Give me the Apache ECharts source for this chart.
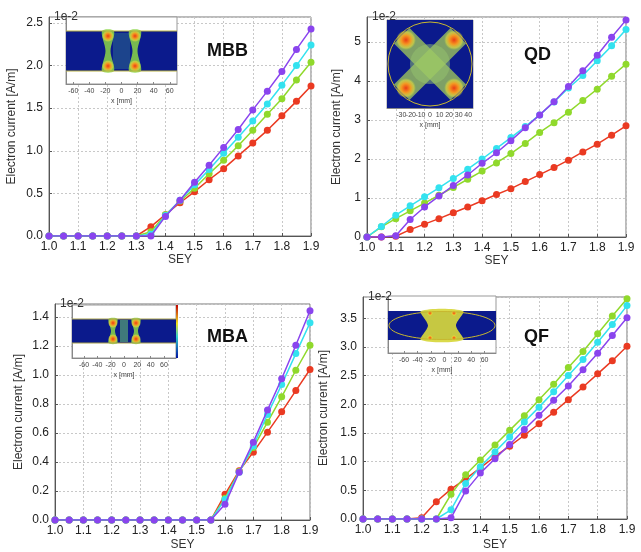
<!DOCTYPE html>
<html>
<head>
<meta charset="utf-8">
<script src="https://cdn.jsdelivr.net/npm/echarts@6/dist/echarts.min.js"></script>
<style>
  html, body { margin: 0; padding: 0; background: #fff; }
  #main { width: 641px; height: 552px; }
</style>
</head>
<body>
<div id="main"></div>
<script>
// SEY values (x axis), same for every panel
var sey = [1.0, 1.05, 1.1, 1.15, 1.2, 1.25, 1.3, 1.35, 1.4, 1.45, 1.5, 1.55, 1.6, 1.65, 1.7, 1.75, 1.8, 1.85, 1.9];

// electron current, units of 1e-2 A/m
var mbbRed    = [0, 0, 0, 0, 0, 0, 0, 0.11, 0.25, 0.39, 0.52, 0.66, 0.79, 0.94, 1.09, 1.24, 1.41, 1.58, 1.76];
var mbbGreen  = [0, 0, 0, 0, 0, 0, 0, 0.05, 0.25, 0.41, 0.56, 0.73, 0.89, 1.06, 1.24, 1.43, 1.61, 1.83, 2.04];
var mbbCyan   = [0, 0, 0, 0, 0, 0, 0, 0.02, 0.24, 0.42, 0.60, 0.78, 0.97, 1.16, 1.35, 1.55, 1.77, 2.00, 2.24];
var mbbPurple = [0, 0, 0, 0, 0, 0, 0, 0, 0.23, 0.42, 0.63, 0.83, 1.04, 1.25, 1.48, 1.70, 1.93, 2.19, 2.43];

var qdRed    = [0, 0, 0.02, 0.19, 0.33, 0.47, 0.62, 0.77, 0.93, 1.09, 1.24, 1.42, 1.60, 1.78, 1.97, 2.18, 2.38, 2.61, 2.85];
var qdGreen  = [0, 0.26, 0.47, 0.67, 0.87, 1.07, 1.27, 1.48, 1.69, 1.90, 2.14, 2.40, 2.68, 2.93, 3.20, 3.50, 3.79, 4.12, 4.43];
var qdCyan   = [0, 0.27, 0.56, 0.80, 1.03, 1.26, 1.50, 1.74, 2.00, 2.27, 2.55, 2.83, 3.13, 3.46, 3.82, 4.14, 4.52, 4.90, 5.32];
var qdPurple = [0, 0, 0.03, 0.45, 0.77, 1.05, 1.32, 1.59, 1.89, 2.16, 2.47, 2.80, 3.13, 3.47, 3.86, 4.26, 4.66, 5.12, 5.56];

var mbaRed    = [0, 0, 0, 0, 0, 0, 0, 0, 0, 0, 0, 0, 0.177, 0.34, 0.468, 0.606, 0.746, 0.893, 1.038];
var mbaGreen  = [0, 0, 0, 0, 0, 0, 0, 0, 0, 0, 0, 0, 0.15, 0.335, 0.50, 0.675, 0.85, 1.033, 1.206];
var mbaCyan   = [0, 0, 0, 0, 0, 0, 0, 0, 0, 0, 0, 0, 0.142, 0.33, 0.51, 0.728, 0.934, 1.148, 1.36];
var mbaPurple = [0, 0, 0, 0, 0, 0, 0, 0, 0, 0, 0, 0, 0.108, 0.33, 0.537, 0.758, 0.974, 1.206, 1.444];

var qfRed    = [0, 0, 0, 0, 0.02, 0.30, 0.52, 0.70, 0.89, 1.09, 1.27, 1.46, 1.66, 1.86, 2.08, 2.30, 2.53, 2.76, 3.01];
var qfGreen  = [0, 0, 0, 0, 0, 0, 0.43, 0.77, 1.03, 1.29, 1.545, 1.80, 2.08, 2.35, 2.64, 2.92, 3.23, 3.54, 3.84];
var qfCyan   = [0, 0, 0, 0, 0, 0, 0.16, 0.62, 0.91, 1.17, 1.43, 1.69, 1.95, 2.22, 2.50, 2.78, 3.08, 3.39, 3.72];
var qfPurple = [0, 0, 0, 0, 0, 0, 0.02, 0.49, 0.80, 1.05, 1.30, 1.56, 1.81, 2.07, 2.32, 2.60, 2.89, 3.20, 3.51];

var panelNames = ['MBB', 'QD', 'MBA', 'QF'];
var insetTicks = [-60, -40, -20, 0, 20, 40, 60];
var qdInsetTicks = [-40, -30, -20, -10, 0, 10, 20, 30, 40];

var colors = ['#ea3a22', '#90d92c', '#33e2ef', '#8a44ee'];
var panels = [
  [mbbRed, mbbGreen, mbbCyan, mbbPurple],
  [qdRed, qdGreen, qdCyan, qdPurple],
  [mbaRed, mbaGreen, mbaCyan, mbaPurple],
  [qfRed, qfGreen, qfCyan, qfPurple]
];

var FONT = '"Liberation Sans", Arial, sans-serif';
var NAVY = '#0b1a8c';

var myChart = echarts.init(document.getElementById('main'));

// main plot boxes
var grids = [
  {left: 49, right: 330, top: 17, height: 219},
  {left: 367, right: 15, top: 17, height: 220},
  {left: 55, right: 331, top: 304, height: 217},
  {left: 363, right: 14, top: 297, height: 222}
];
var yMax = [2.57, 5.64, 1.49, 3.87];
var yStep = [0.5, 1, 0.2, 0.5];
var yDigits = [1, 0, 1, 1];
var yNameGap = [31, 24, 30, 33];
var sNameGap = [16, 16, 19, 20];
var titlePos = [[202, 37], [519, 41], [202, 323], [519, 323]];

// inset boxes (x range in mm)
var insets = [
  {left: 66, width: 111, top: 17, height: 67, min: -69, max: 69, ticks: insetTicks},
  {left: 387, width: 86, top: 20, height: 88, min: -45, max: 45, ticks: qdInsetTicks},
  {left: 72, width: 104, top: 305, height: 53, min: -78, max: 78, ticks: insetTicks},
  {left: 388, width: 108, top: 296, height: 57, min: -84, max: 77, ticks: insetTicks}
];

var gridOpt = [], xAxes = [], yAxes = [], series = [], titles = [];

grids.forEach(function (g, i) {
  gridOpt.push({left: g.left, right: g.right, top: g.top, height: g.height,
    show: true, borderColor: '#777', borderWidth: 1, backgroundColor: '#fff'});
  xAxes.push({
    gridIndex: i, type: 'value', min: 1.0, max: 1.9, interval: 0.1,
    name: 'SEY', nameLocation: 'middle', nameGap: sNameGap[i],
    nameTextStyle: {fontFamily: FONT, fontSize: 12, color: '#333'},
    axisLine: {lineStyle: {color: '#555'}},
    axisTick: {inside: true, length: 3, lineStyle: {color: '#555'}},
    axisLabel: {fontFamily: FONT, fontSize: 12, color: '#222', margin: 5,
      formatter: function (v) { return v.toFixed(1); }},
    splitLine: {show: true, lineStyle: {color: '#c8c8c8', type: [2, 2]}}
  });
  yAxes.push({
    gridIndex: i, type: 'value', min: 0, max: yMax[i], interval: yStep[i],
    name: 'Electron current [A/m]', nameLocation: 'middle', nameGap: yNameGap[i],
    nameTextStyle: {fontFamily: FONT, fontSize: 12, color: '#333'},
    axisLine: {lineStyle: {color: '#555'}},
    axisTick: {inside: true, length: 3, lineStyle: {color: '#555'}},
    axisLabel: {fontFamily: FONT, fontSize: 12, color: '#222', margin: 6, showMaxLabel: false,
      formatter: (function (d) { return function (v) { return v.toFixed(d); }; })(yDigits[i])},
    splitLine: {show: true, lineStyle: {color: '#c8c8c8', type: [2, 2]}}
  });
  panels[i].forEach(function (vals, k) {
    series.push({
      type: 'line', xAxisIndex: i, yAxisIndex: i,
      data: sey.map(function (x, j) { return [x, vals[j]]; }),
      symbol: 'circle', symbolSize: 7, showSymbol: true,
      lineStyle: {color: colors[k], width: 1.5},
      itemStyle: {color: colors[k]},
      z: 2 + k, animation: false
    });
  });
  titles.push({text: '1e-2', left: g.left, top: g.top - 11,
    textStyle: {fontFamily: FONT, fontSize: 12, fontWeight: 'normal', color: '#333'}});
  titles.push({text: panelNames[i], left: titlePos[i][0], top: titlePos[i][1],
    textStyle: {fontFamily: FONT, fontSize: 18, fontWeight: 'bold', color: '#111'}});
});

insets.forEach(function (s, i) {
  var gi = 4 + i;
  gridOpt.push({left: s.left, width: s.width, top: s.top, height: s.height,
    show: true, borderColor: '#999', borderWidth: 1, backgroundColor: '#fff', z: 5});
  xAxes.push({
    gridIndex: gi, type: 'value', min: s.min, max: s.max, z: 5,
    name: 'x [mm]', nameLocation: 'middle', nameGap: 14,
    nameTextStyle: {fontFamily: FONT, fontSize: 7, color: '#444'},
    axisLine: {lineStyle: {color: '#888'}},
    axisTick: {inside: true, length: 2, customValues: s.ticks, lineStyle: {color: '#888'}},
    axisLabel: {fontFamily: FONT, fontSize: 7, color: '#444', margin: 4, customValues: s.ticks},
    splitLine: {show: false}
  });
  yAxes.push({gridIndex: gi, type: 'value', min: 0, max: 1, z: 5,
    axisLine: {onZero: false, lineStyle: {color: '#888'}}, axisTick: {show: false},
    axisLabel: {show: false}, splitLine: {show: false}});
});

// ----- inset pictures (decoration) -----
var gfx = [];
function rect(x, y, w, h, fill) {
  gfx.push({type: 'rect', shape: {x: x, y: y, width: w, height: h}, style: {fill: fill}, z: 20, silent: true});
}
function line(x1, y1, x2, y2, c) {
  gfx.push({type: 'line', shape: {x1: x1, y1: y1, x2: x2, y2: y2}, style: {stroke: c, lineWidth: 1}, z: 22, silent: true});
}
function hot(cx, cy, rx, ry) {
  gfx.push({type: 'ellipse', shape: {cx: cx, cy: cy, rx: rx, ry: ry}, z: 21, silent: true,
    style: {fill: new echarts.graphic.RadialGradient(0.5, 0.5, 0.5, [
      {offset: 0, color: 'rgba(235,60,20,1)'},
      {offset: 0.45, color: 'rgba(250,150,30,0.95)'},
      {offset: 0.8, color: 'rgba(230,220,60,0.6)'},
      {offset: 1, color: 'rgba(200,220,60,0)'}])}});
}
function hourglass(cx, y1, y2, wEnd, wMid, fill) {
  var ym = (y1 + y2) / 2;
  gfx.push({type: 'polygon', z: 21, silent: true,
    shape: {points: [[cx - wEnd / 2, y1], [cx + wEnd / 2, y1], [cx + wMid / 2, ym], [cx + wEnd / 2, y2],
      [cx - wEnd / 2, y2], [cx - wMid / 2, ym]], smooth: 0.3},
    style: {fill: fill || 'rgba(140,215,70,0.85)'}});
}

// MBB
rect(66, 31, 111, 40, NAVY);
rect(113, 33, 17, 36, 'rgba(60,150,140,0.35)');
hourglass(108, 31, 71, 12, 5);
hourglass(135, 31, 71, 12, 5);
hot(108, 36, 7, 6); hot(108, 66, 7, 6);
hot(135, 36, 7, 6); hot(135, 66, 7, 6);
line(66, 31, 177, 31, '#b8b040'); line(66, 71, 177, 71, '#b8b040');

// QD
rect(387, 20, 86, 88, NAVY);
(function () {
  var cx = 430, cy = 64, r = 42, h = 11, L = 40;
  [[1, 1], [1, -1]].forEach(function (d) {
    var dx = d[0] * 0.7071, dy = d[1] * 0.7071, px = -dy, py = dx;
    gfx.push({type: 'polygon', z: 21, silent: true, style: {fill: 'rgba(165,205,90,0.75)'},
      shape: {points: [[cx + L * dx + h * px, cy + L * dy + h * py], [cx + L * dx - h * px, cy + L * dy - h * py],
        [cx - L * dx - h * px, cy - L * dy - h * py], [cx - L * dx + h * px, cy - L * dy + h * py]]}});
    hot(cx + 34 * dx, cy + 34 * dy, 10, 10);
    hot(cx - 34 * dx, cy - 34 * dy, 10, 10);
  });
  gfx.push({type: 'circle', shape: {cx: cx, cy: cy, r: 20}, z: 21, silent: true, style: {fill: 'rgba(150,195,110,0.5)'}});
  gfx.push({type: 'circle', shape: {cx: cx, cy: cy, r: r}, z: 22, silent: true, style: {fill: 'none', stroke: '#c8b830', lineWidth: 1}});
})();

// MBA
rect(72, 319, 104, 24, NAVY);
rect(120, 320, 8, 22, 'rgba(110,200,110,0.55)');
hourglass(113, 319, 343, 9, 4);
hourglass(136, 319, 343, 9, 4);
hot(113, 323, 5, 5); hot(113, 339, 5, 5);
hot(136, 323, 5, 5); hot(136, 339, 5, 5);
line(72, 319, 176, 319, '#a8a048'); line(72, 343, 176, 343, '#a8a048');
gfx.push({type: 'rect', shape: {x: 176, y: 305, width: 2, height: 53}, z: 22, silent: true,
  style: {fill: new echarts.graphic.LinearGradient(0, 0, 0, 1, [
    {offset: 0, color: '#c00000'}, {offset: 0.35, color: '#f0e020'}, {offset: 0.6, color: '#30d0d0'}, {offset: 1, color: '#0010a0'}])}});

// QF
rect(388, 311, 108, 29, NAVY);
hourglass(442, 311, 340, 42, 28, 'rgba(215,215,60,0.92)');
hot(430, 313, 7, 3); hot(454, 313, 7, 3);
hot(430, 338, 7, 3); hot(454, 338, 7, 3);
gfx.push({type: 'ellipse', shape: {cx: 442, cy: 325.5, rx: 53, ry: 14}, z: 22, silent: true,
  style: {fill: 'none', stroke: '#c8b830', lineWidth: 1}});

var option = {
  backgroundColor: '#fff',
  animation: false,
  title: titles,
  grid: gridOpt,
  xAxis: xAxes,
  yAxis: yAxes,
  series: series,
  graphic: gfx
};
myChart.setOption(option);
</script>
</body>
</html>
